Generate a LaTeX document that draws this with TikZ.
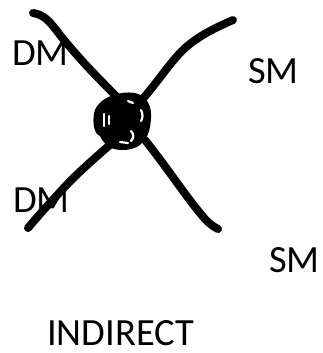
\documentclass[tikz,border=0pt]{standalone}
\usepackage{fontspec}
\setmainfont{Carlito}
\begin{document}
\begin{tikzpicture}[x=1pt,y=-1pt,
  pen/.style={line width=8pt,line cap=round,line join=round},
  slit/.style={white,line width=2.2pt,line cap=round},
  lbl/.style={anchor=base west,inner sep=0pt,text depth=0pt,font=\fontsize{38.5}{40}\selectfont}]
\useasboundingbox (0,0) rectangle (322,353);
% strokes
\draw[pen] (33,13) .. controls (45,15) and (50,22) .. (60,35)
  .. controls (80,60) and (100,80) .. (120,100);
\draw[pen] (145,140) .. controls (165,165) and (185,195) .. (200,213)
  .. controls (207,222) and (212,226) .. (218,229);
\draw[pen] (233,20) .. controls (215,28) and (200,35) .. (185,48)
  .. controls (170,62) and (158,82) .. (140,102);
\draw[pen] (112,143) .. controls (95,158) and (75,175) .. (60,192)
  .. controls (48,205) and (38,216) .. (28,228);
% centre scribble
\fill (122,93) .. controls (142,90) and (152,100) .. (151,118)
  .. controls (150,138) and (142,150) .. (122,150)
  .. controls (108,150) and (103,142) .. (100,136)
  .. controls (93,134) and (92,118) .. (95,110)
  .. controls (98,102) and (108,95) .. (122,93) -- cycle;
\draw[slit] (104,114) -- (104,126);
\draw[slit] (109,116) -- (109,124);
\draw[slit] (128,101) -- (133,103);
\draw[slit] (131,131) .. controls (134,134) and (134,138) .. (131,141);
\draw[slit] (120,142) -- (128,143);
\draw[slit] (141,110) .. controls (143,114) and (143,118) .. (141,121);
% labels
\node[lbl] (dm1) at (12,65) {DM};
\node[lbl] (sm1) at (248,83) {SM};
\node[lbl] (dm2) at (13,212) {DM};
\node[lbl] (sm2) at (269,272) {SM};
\node[lbl] (ind) at (47,345) {INDIRECT};
\end{tikzpicture}
\end{document}
